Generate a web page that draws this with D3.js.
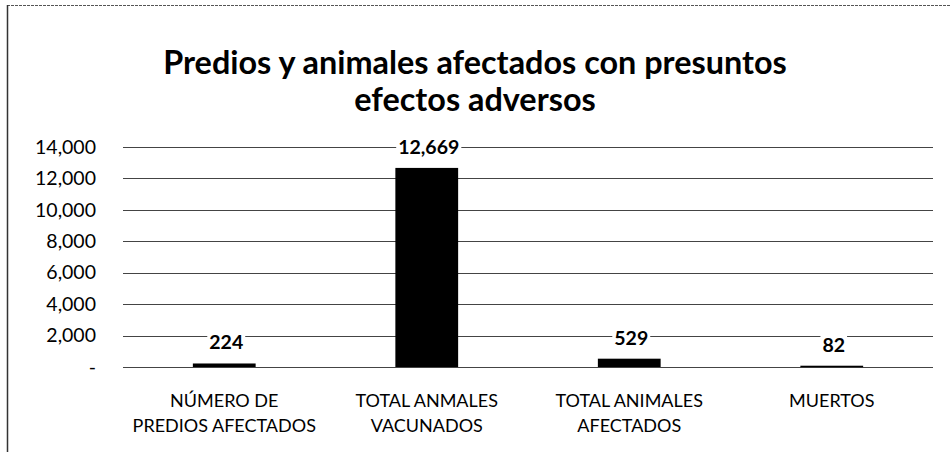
<!DOCTYPE html>
<html>
<head>
<meta charset="utf-8">
<script src="https://cdn.jsdelivr.net/npm/d3@7"></script>
<style>
  html, body { margin: 0; padding: 0; background: #fff; }
  svg { display: block; }
</style>
</head>
<body>
<svg id="chart" width="951" height="452"></svg>
<script>
const titleLines = ["Predios y animales afectados con presuntos", "efectos adversos"];
const categories = [
  ["NÚMERO DE", "PREDIOS AFECTADOS"],
  ["TOTAL ANMALES", "VACUNADOS"],
  ["TOTAL ANIMALES", "AFECTADOS"],
  ["MUERTOS"]
];
const values = [224, 12669, 529, 82];
const yTicks = [0, 2000, 4000, 6000, 8000, 10000, 12000, 14000];

const svg = d3.select("#chart");
const W = 951, H = 452;
const m = { left: 123, right: 18, top: 147, bottom: 85 };
const plotW = W - m.left - m.right;
const plotH = H - m.top - m.bottom;

// border of the scanned chart area
svg.append("line").attr("x1", 7).attr("x2", W).attr("y1", 5.5).attr("y2", 5.5)
  .attr("stroke", "#555").attr("stroke-width", 1).attr("stroke-dasharray", "3,1");
svg.append("line").attr("x1", 7.5).attr("x2", 7.5).attr("y1", 5).attr("y2", H)
  .attr("stroke", "#333").attr("stroke-width", 1.5);

// title
const title = svg.append("g");
const tLine1 = title.append("text").attr("x", 475).attr("y", 74)
  .attr("text-anchor", "middle").attr("font-family", "Lato, 'Open Sans', sans-serif")
  .attr("font-weight", "bold").attr("font-size", 31).attr("fill", "#000")
  .text(titleLines[0]);
const tLine2 = title.append("text").attr("x", 475).attr("y", 111)
  .attr("text-anchor", "middle").attr("font-family", "Lato, 'Open Sans', sans-serif")
  .attr("font-weight", "bold").attr("font-size", 31).attr("fill", "#000")
  .text(titleLines[1]);
// fit title width to ~624px
const w1 = tLine1.node().getComputedTextLength();
const fs = 31 * 624 / w1;
tLine1.attr("font-size", fs);
tLine2.attr("font-size", fs);

const x = d3.scaleBand().domain(d3.range(categories.length))
  .range([m.left, m.left + plotW]).paddingInner(0.69).paddingOuter(0.345);
const y = d3.scaleLinear().domain([0, 14000]).range([m.top + plotH, m.top]);

// gridlines
svg.append("g").selectAll("line").data(yTicks).join("line")
  .attr("x1", m.left).attr("x2", m.left + plotW)
  .attr("y1", d => Math.round(y(d)) + 0.5).attr("y2", d => Math.round(y(d)) + 0.5)
  .attr("stroke", "#444").attr("stroke-width", 1);

// y axis labels
const yAxis = d3.axisLeft(y).tickValues(yTicks)
  .tickFormat(d => d === 0 ? "-" : d3.format(",")(d)).tickSize(0).tickPadding(27);
const ya = svg.append("g").attr("transform", `translate(${m.left},0)`).call(yAxis);
ya.select(".domain").remove();
ya.selectAll("text").attr("font-family", "Lato, 'Open Sans', sans-serif")
  .attr("font-size", 19.5).attr("fill", "#000");

// bars
svg.append("g").selectAll("rect").data(values).join("rect")
  .attr("x", (d, i) => x(i)).attr("width", x.bandwidth())
  .attr("y", d => y(d)).attr("height", d => Math.max(1.5, y(0) - y(d)))
  .attr("fill", "#000");

// value labels with white backing to break the gridlines
const lg = svg.append("g");
values.forEach((v, i) => {
  const cx = x(i) + x.bandwidth() / 2 + 2;
  const by = Math.min(y(v), y(0) - 1.5) - 14;
  const t = lg.append("text").attr("x", cx).attr("y", by)
    .attr("text-anchor", "middle").attr("font-family", "Lato, 'Open Sans', sans-serif")
    .attr("font-weight", "bold").attr("font-size", 19.5).attr("fill", "#000")
    .text(d3.format(",")(v));
  const bb = t.node().getBBox();
  lg.insert("rect", "text").attr("x", bb.x - 2).attr("y", bb.y + 2)
    .attr("width", bb.width + 4).attr("height", bb.height - 4).attr("fill", "#fff");
});

// category labels
const cg = svg.append("g");
categories.forEach((lines, i) => {
  const cx = x(i) + x.bandwidth() / 2;
  lines.forEach((ln, j) => {
    cg.append("text").attr("x", cx).attr("y", 407 + j * 25)
      .attr("text-anchor", "middle").attr("font-family", "Lato, 'Open Sans', sans-serif")
      .attr("font-size", 18).attr("fill", "#000").text(ln);
  });
});
</script>
</body>
</html>
